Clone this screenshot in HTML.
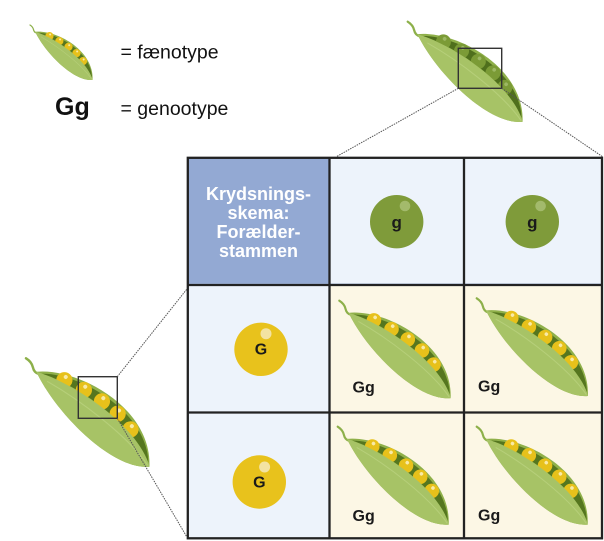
<!DOCTYPE html>
<html>
<head>
<meta charset="utf-8">
<style>
  html, body { margin: 0; padding: 0; background: #ffffff; }
  body { width: 604px; height: 541px; overflow: hidden; }
  svg { display: block; }
  text { font-family: "Liberation Sans", Arial, sans-serif; }
</style>
</head>
<body>
<svg width="604" height="541" viewBox="0 0 604 541" xmlns="http://www.w3.org/2000/svg">
  <defs>
    <g id="podY">
      <path d="M0,0 Q6,-1 10,2 T18,3" fill="none" stroke="#8db04a" stroke-width="2.2" stroke-linecap="round"/>
      <path d="M15,3 C40,-24 114,-42 148,0 C124,25 52,19 15,3 Z" fill="#8fb04a"/>
      <path d="M20,1 C45,-22 114,-36 145,-2 C112,-20 48,-12 20,1 Z" fill="#55761f"/>
      <g fill="#e7c11b">
        <circle cx="39" cy="-8" r="7.3"/>
        <circle cx="58" cy="-13" r="7.3"/>
        <circle cx="77" cy="-16" r="7.3"/>
        <circle cx="95" cy="-17" r="7.3"/>
        <circle cx="113" cy="-14" r="7.3"/>
      </g>
      <g fill="#f8eaa8">
        <circle cx="38" cy="-11" r="1.8"/>
        <circle cx="57" cy="-16" r="1.8"/>
        <circle cx="76" cy="-19" r="1.8"/>
        <circle cx="94" cy="-20" r="1.8"/>
        <circle cx="112" cy="-17" r="1.8"/>
      </g>
      <path d="M15,3 C48,-12 112,-20 145,-2 L148,0 C124,25 52,19 15,3 Z" fill="#a7c366"/>
      <path d="M28,3 C62,-4 115,-8 146,0" fill="none" stroke="#b6cf7a" stroke-width="1"/>
    </g>
    <g id="podG">
      <path d="M0,0 Q6,-1 10,2 T18,3" fill="none" stroke="#8db04a" stroke-width="2.2" stroke-linecap="round"/>
      <path d="M15,3 C40,-24 114,-42 148,0 C124,25 52,19 15,3 Z" fill="#8fb04a"/>
      <path d="M20,1 C45,-22 114,-36 145,-2 C112,-20 48,-12 20,1 Z" fill="#4f6f1c"/>
      <g fill="#7b9b36">
        <circle cx="39" cy="-8" r="7.3"/>
        <circle cx="58" cy="-13" r="7.3"/>
        <circle cx="77" cy="-16" r="7.3"/>
        <circle cx="95" cy="-17" r="7.3"/>
        <circle cx="113" cy="-14" r="7.3"/>
      </g>
      <g fill="#9db864">
        <circle cx="38" cy="-11" r="1.8"/>
        <circle cx="57" cy="-16" r="1.8"/>
        <circle cx="76" cy="-19" r="1.8"/>
        <circle cx="94" cy="-20" r="1.8"/>
        <circle cx="112" cy="-17" r="1.8"/>
      </g>
      <path d="M15,3 C48,-12 112,-20 145,-2 L148,0 C124,25 52,19 15,3 Z" fill="#a7c366"/>
      <path d="M28,3 C62,-4 115,-8 146,0" fill="none" stroke="#b6cf7a" stroke-width="1"/>
    </g>
  </defs>

  <!-- Legend -->
  <use href="#podY" transform="translate(30,25) rotate(41.3) scale(0.563)"/>
  <text x="120.5" y="58.3" font-size="19.5" fill="#111">= fænotype</text>
  <text x="55" y="115" font-size="25" font-weight="bold" fill="#111">Gg</text>
  <text x="120.5" y="115" font-size="19.5" fill="#111">= genootype</text>

  <!-- Top parent pod -->
  <use href="#podG" transform="translate(407.7,21.7) rotate(41.1) scale(1.03)"/>
  <rect x="458.3" y="48.3" width="43.4" height="40" fill="none" stroke="#333" stroke-width="1.4"/>
  <line x1="458.3" y1="88.3" x2="336.7" y2="156.5" stroke="#555" stroke-width="1" stroke-dasharray="1.5,1"/>
  <line x1="501.7" y1="88.3" x2="602.3" y2="156.5" stroke="#555" stroke-width="1" stroke-dasharray="1.5,1"/>

  <!-- Left parent pod -->
  <use href="#podY" transform="translate(26,358.3) rotate(41.3) scale(1.11)"/>
  <rect x="78.3" y="376.7" width="39" height="41.6" fill="none" stroke="#333" stroke-width="1.4"/>
  <line x1="117.3" y1="376.7" x2="186.7" y2="289.3" stroke="#555" stroke-width="1" stroke-dasharray="1.5,1"/>
  <line x1="117.3" y1="418.3" x2="186.7" y2="536.7" stroke="#555" stroke-width="1" stroke-dasharray="1.5,1"/>

  <!-- Grid cells -->
  <rect x="187.5" y="157.5" width="142.5" height="126.5" fill="#93a9d3"/>
  <rect x="330" y="157.5" width="134" height="126.5" fill="#edf3fb" stroke="#a9bbde" stroke-width="1"/>
  <rect x="464" y="157.5" width="138" height="126.5" fill="#edf3fb" stroke="#a9bbde" stroke-width="1"/>
  <rect x="187.5" y="284" width="142.5" height="129" fill="#edf3fb" stroke="#a9bbde" stroke-width="1"/>
  <rect x="187.5" y="413" width="142.5" height="125.5" fill="#edf3fb" stroke="#a9bbde" stroke-width="1"/>
  <rect x="330" y="284" width="134" height="129" fill="#fcf7e5"/>
  <rect x="464" y="284" width="138" height="129" fill="#fcf7e5"/>
  <rect x="330" y="413" width="134" height="125.5" fill="#fcf7e5"/>
  <rect x="464" y="413" width="138" height="125.5" fill="#fcf7e5"/>

  <!-- Grid lines -->
  <g stroke="#222" stroke-width="2.3" fill="none">
    <rect x="187.8" y="157.8" width="414.2" height="380.5"/>
    <line x1="329.5" y1="157" x2="329.5" y2="539"/>
    <line x1="464" y1="157" x2="464" y2="539"/>
    <line x1="187" y1="285" x2="603" y2="285"/>
    <line x1="187" y1="412.5" x2="603" y2="412.5"/>
  </g>

  <!-- Header text -->
  <g font-size="18" font-weight="bold" fill="#ffffff" text-anchor="middle">
    <text x="258.5" y="200">Krydsnings-</text>
    <text x="258.5" y="219">skema:</text>
    <text x="258.5" y="238">Forælder-</text>
    <text x="258.5" y="257">stammen</text>
  </g>

  <!-- g alleles -->
  <circle cx="396.7" cy="221.7" r="26.7" fill="#7f9b3a"/>
  <circle cx="405" cy="206" r="5.3" fill="#a3ba6c"/>
  <text x="396.7" y="228" font-size="17" font-weight="bold" fill="#1a1a1a" text-anchor="middle">g</text>
  <circle cx="532.3" cy="221.7" r="26.7" fill="#7f9b3a"/>
  <circle cx="540.6" cy="206" r="5.3" fill="#a3ba6c"/>
  <text x="532.3" y="228" font-size="17" font-weight="bold" fill="#1a1a1a" text-anchor="middle">g</text>

  <!-- G alleles -->
  <circle cx="261" cy="349.3" r="26.7" fill="#e8c21c"/>
  <circle cx="266" cy="333.7" r="5.5" fill="#f3e3a2"/>
  <text x="261" y="354.5" font-size="16" font-weight="bold" fill="#1a1a1a" text-anchor="middle">G</text>
  <circle cx="259.3" cy="482" r="26.7" fill="#e8c21c"/>
  <circle cx="264.6" cy="467" r="5.5" fill="#f3e3a2"/>
  <text x="259.3" y="487.3" font-size="16" font-weight="bold" fill="#1a1a1a" text-anchor="middle">G</text>

  <!-- Offspring pods -->
  <use href="#podY" transform="translate(339.3,300.7) rotate(41.2)"/>
  <use href="#podY" transform="translate(476.7,298.3) rotate(41.3)"/>
  <use href="#podY" transform="translate(337.7,426.7) rotate(41.4)"/>
  <use href="#podY" transform="translate(476.7,426.7) rotate(41.4)"/>

  <g font-size="16" font-weight="bold" fill="#1a1a1a">
    <text x="352.5" y="392.5">Gg</text>
    <text x="478" y="391.7">Gg</text>
    <text x="352.5" y="521">Gg</text>
    <text x="478" y="520.7">Gg</text>
  </g>
</svg>
</body>
</html>
